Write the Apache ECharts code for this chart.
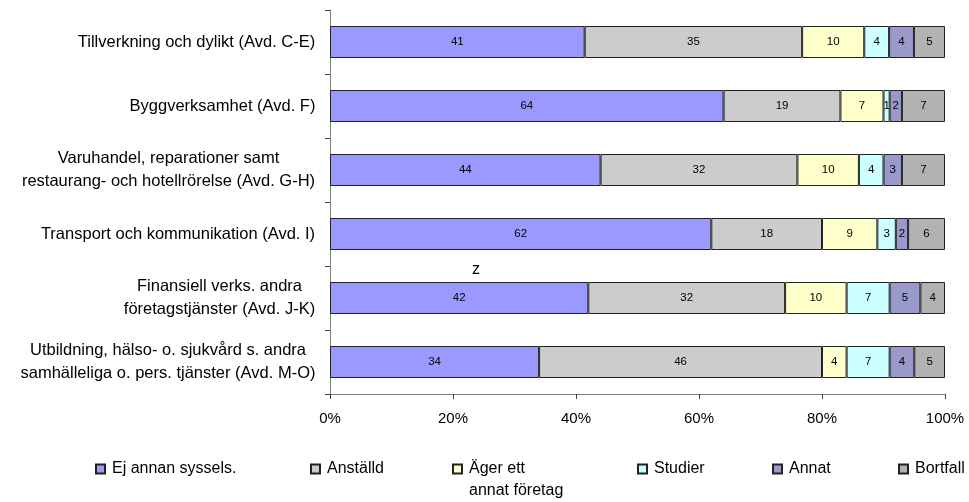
<!DOCTYPE html>
<html>
<head>
<meta charset="utf-8">
<style>
  html, body { margin: 0; padding: 0; background: #fff; }
  #chart { width: 969px; height: 502px; }
</style>
<script src="https://cdn.jsdelivr.net/npm/echarts@6/dist/echarts.min.js"></script>
</head>
<body>
<div id="chart"></div>
<script>
const FONT = '"Liberation Sans", Arial, sans-serif'

const categories = [
  'Tillverkning och dylikt (Avd. C-E)',
  'Byggverksamhet (Avd. F)',
  'Varuhandel, reparationer samt\nrestaurang- och hotellrörelse (Avd. G-H)',
  'Transport och kommunikation (Avd. I)',
  'Finansiell verks. andra\nföretagstjänster (Avd. J-K)',
  'Utbildning, hälso- o. sjukvård s. andra\nsamhälleliga o. pers. tjänster (Avd. M-O)'
]

const seriesNames = ['Ej annan syssels.', 'Anställd', 'Äger ett annat företag', 'Studier', 'Annat', 'Bortfall']
const ejAnnan = [41, 64, 44, 62, 42, 34]
const anstalld = [35, 19, 32, 18, 32, 46]
const agerForetag = [10, 7, 10, 9, 10, 4]
const studier = [4, 1, 4, 3, 7, 7]
const annat = [4, 2, 3, 2, 5, 4]
const bortfall = [5, 7, 7, 6, 4, 5]
const tickLabels = ['0%', '20%', '40%', '60%', '80%', '100%']

const colors = ['#9999ff', '#cccccc', '#ffffcc', '#ccffff', '#9999cc', '#b2b2b2']
const rows = [ejAnnan, anstalld, agerForetag, studier, annat, bortfall]

// 100% stacked: each row is normalised to its own total
const totals = categories.map((c, i) => rows.reduce((s, r) => s + r[i], 0))

// centre multi-line category labels inside their widest line
const ctx = document.createElement('canvas').getContext('2d')
ctx.font = '16.5px ' + FONT
const rich = {}
categories.forEach((c, i) => {
  const w = Math.max(...c.split('\n').map(l => ctx.measureText(l).width))
  rich['c' + i] = { width: Math.ceil(w) + 1, align: 'center', fontSize: 16.5, lineHeight: 23, color: '#000', fontFamily: FONT }
})

const legendX = [90, 305, 447, 632, 767, 893]

const chart = echarts.init(document.getElementById('chart'))
chart.setOption({
  backgroundColor: '#fff',
  animation: false,
  grid: { left: 330, right: 24, top: 10, bottom: 108, containLabel: false },
  xAxis: {
    type: 'value',
    min: 0,
    max: 100,
    interval: 20,
    axisLine: { show: true, lineStyle: { color: '#808080' } },
    axisTick: { show: true, length: 5, lineStyle: { color: '#404040' } },
    splitLine: { show: false },
    axisLabel: {
      margin: 17,
      fontSize: 15,
      color: '#000',
      fontFamily: FONT,
      formatter: v => tickLabels[v / 20]
    }
  },
  yAxis: {
    type: 'category',
    inverse: true,
    data: categories,
    axisLine: { show: true, lineStyle: { color: '#808080' } },
    axisTick: { show: true, length: 5, lineStyle: { color: '#404040' } },
    axisLabel: {
      margin: 14,
      align: 'right',
      formatter: (v, idx) => v.split('\n').map(l => '{c' + idx + '|' + l + '}').join('\n'),
      rich: rich
    }
  },
  legend: seriesNames.map((name, i) => ({
    data: [name],
    left: legendX[i],
    top: i === 2 ? 431 : 456,
    icon: 'rect',
    itemWidth: 9,
    itemHeight: 9,
    itemGap: 0,
    selectedMode: false,
    // leading blank line keeps the marker level with the first text line
    formatter: n => (n === 'Äger ett annat företag' ? ' \nÄger ett\nannat företag' : n),
    textStyle: i === 2
      ? { fontSize: 16, color: '#000', fontFamily: FONT, lineHeight: 22, padding: [0, 0, 0, 2] }
      : { fontSize: 16, color: '#000', fontFamily: FONT, padding: [0, 0, 0, 2] }
  })),
  graphic: [
    {
      type: 'text',
      left: 472,
      top: 262,
      style: { text: 'z', fontSize: 16, fontFamily: FONT, fill: '#000' }
    }
  ],
  series: seriesNames.map((name, k) => ({
    name: name,
    type: 'bar',
    stack: 'total',
    barWidth: '50%',
    itemStyle: { color: colors[k], borderColor: '#222', borderWidth: 1 },
    label: {
      show: true,
      position: 'inside',
      color: '#000',
      fontSize: 11.5,
      fontFamily: FONT,
      formatter: p => rows[k][p.dataIndex]
    },
    data: rows[k].map((v, i) => (v / totals[i]) * 100)
  }))
})
</script>
</body>
</html>
